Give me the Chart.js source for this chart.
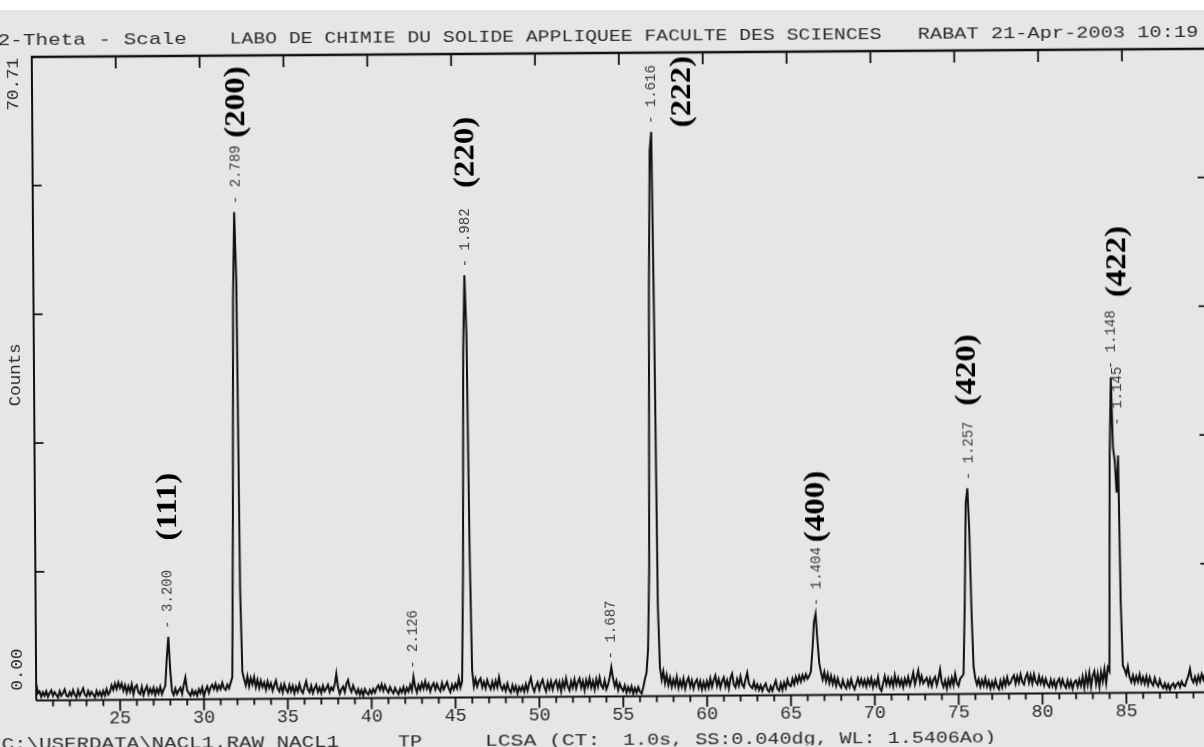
<!DOCTYPE html>
<html>
<head>
<meta charset="utf-8">
<script src="https://cdn.jsdelivr.net/npm/chart.js@4.4.1/dist/chart.umd.min.js"></script>
<style>
  html, body { margin: 0; padding: 0; background: #e6e6e6; overflow: hidden; width: 1204px; height: 747px; }
  /* the scanned plot sits slightly tilted on the page */
  #wrap { position: absolute; left: 0; top: 0; width: 1216px; height: 747px; transform: rotate(-0.4deg); transform-origin: 602px 373px; }
  #strip { position: absolute; left: 0; top: 0; width: 1204px; height: 10px; background: #fff; z-index: 2; }
</style>
</head>
<body>
<div id="wrap"><canvas id="xrd"></canvas></div>
<div id="strip"></div>
<script>
// scan: 2-theta from 20 to 90 deg, counts read every 0.1 deg
const scanStart = 20.0;
const scanStep = 0.1;
const counts = [
  1.9, 0.8, 1.0, 0.4, 0.9, 0.5, 1.0, 0.4, 0.8, 1.1,
  0.5, 0.9, 0.6, 0.3, 1.0, 0.5, 0.8, 1.2, 0.5, 0.4,
  0.9, 0.5, 1.1, 0.6, 0.3, 1.1, 0.5, 0.9, 1.3, 0.6,
  0.4, 1.0, 0.5, 0.9, 0.6, 0.3, 1.0, 0.5, 0.9, 0.4,
  1.0, 0.5, 1.2, 0.6, 0.9, 1.6, 1.1, 1.8, 1.2, 1.9,
  1.3, 1.8, 1.0, 1.6, 0.8, 1.5, 0.9, 1.7, 0.6, 1.4,
  1.6, 0.8, 0.6, 1.4, 0.5, 1.1, 1.5, 0.6, 1.2, 0.7,
  1.3, 0.5, 1.2, 0.7, 1.4, 0.6, 1.1, 1.5, 4.6, 6.9,
  3.2, 0.9, 0.5, 1.2, 0.6, 1.0, 1.3, 0.6, 1.6, 2.4,
  1.0, 0.7, 0.4, 1.0, 0.5, 0.9, 0.4, 1.1, 0.7, 1.3,
  0.3, 1.0, 1.4, 0.7, 1.3, 1.6, 1.1, 1.7, 1.0, 1.5,
  1.1, 1.8, 1.2, 1.0, 1.6, 1.2, 1.8, 2.4, 20.0, 44.0,
  53.5, 46.0, 12.0, 3.0, 2.2, 1.5, 2.5, 1.4, 2.3, 1.6,
  2.4, 1.3, 2.1, 1.2, 2.0, 1.3, 1.8, 1.0, 1.9, 1.2,
  1.7, 0.9, 1.5, 2.0, 1.1, 0.8, 1.5, 0.7, 1.6, 1.0,
  0.7, 1.5, 0.8, 1.4, 0.6, 1.3, 0.8, 1.6, 0.9, 0.6,
  1.3, 1.9, 1.0, 0.7, 1.4, 0.6, 1.1, 1.5, 0.7, 1.2,
  0.6, 1.4, 0.8, 1.1, 1.5, 0.7, 1.2, 0.9, 1.5, 2.7,
  1.2, 0.5, 1.0, 1.3, 0.7, 1.6, 2.0, 1.1, 0.7, 1.4,
  0.9, 0.5, 1.0, 0.4, 0.9, 0.3, 1.0, 0.6, 0.4, 0.9,
  0.5, 1.0, 0.6, 1.1, 1.4, 0.9, 1.5, 0.8, 1.4, 0.9,
  0.6, 1.2, 0.8, 0.5, 1.1, 0.7, 0.4, 1.0, 0.6, 1.2,
  0.5, 1.1, 0.7, 1.4, 0.8, 2.3, 1.2, 0.6, 1.4, 0.9,
  1.6, 1.0, 1.8, 1.0, 1.5, 0.7, 1.3, 1.6, 0.9, 1.5,
  1.0, 0.7, 1.6, 0.9, 1.3, 1.7, 1.0, 0.6, 1.4, 0.9,
  1.5, 1.0, 2.1, 1.1, 1.8, 14.0, 38.0, 46.4, 40.0, 16.0,
  3.0, 1.2, 2.0, 1.2, 1.8, 2.1, 1.1, 1.7, 1.0, 1.9,
  1.3, 0.9, 1.7, 1.0, 1.8, 1.1, 2.2, 1.2, 0.8, 1.3,
  0.7, 1.5, 0.8, 0.5, 1.3, 0.7, 1.2, 0.4, 1.1, 0.7,
  1.2, 0.6, 1.4, 0.7, 1.5, 2.1, 1.1, 0.6, 1.2, 1.6,
  0.8, 1.5, 1.9, 1.1, 0.6, 1.6, 0.9, 1.7, 0.8, 1.5,
  1.8, 0.9, 1.6, 0.6, 1.7, 1.0, 2.0, 1.1, 0.7, 1.7,
  1.0, 1.9, 0.9, 1.6, 2.0, 1.0, 1.7, 0.7, 1.8, 1.1,
  2.0, 1.0, 1.7, 0.8, 1.9, 1.1, 2.1, 1.2, 0.9, 1.8,
  0.8, 1.3, 2.1, 3.2, 2.0, 1.1, 1.7, 0.7, 1.4, 0.9,
  0.6, 1.2, 0.4, 1.0, 0.5, 1.1, 0.3, 0.9, 0.4, 1.0,
  0.5, 0.3, 1.0, 1.9, 2.6, 5.2, 14.0, 45.0, 60.0, 62.0,
  40.0, 10.0, 3.2, 1.8, 2.7, 1.4, 2.3, 1.2, 2.0, 1.0,
  1.8, 1.1, 2.1, 0.9, 1.7, 1.0, 1.9, 0.8, 1.6, 2.0,
  1.0, 1.7, 0.8, 1.5, 1.8, 0.9, 1.6, 0.7, 1.5, 0.8,
  1.6, 0.9, 1.9, 1.0, 1.7, 2.2, 1.1, 1.8, 0.9, 1.6,
  2.0, 1.0, 1.7, 0.8, 1.9, 2.4, 1.2, 0.9, 1.8, 1.1,
  2.1, 1.2, 0.9, 1.8, 2.5, 1.3, 1.0, 0.8, 1.5, 0.7,
  1.2, 0.6, 1.1, 0.5, 1.0, 1.3, 0.6, 0.4, 1.0, 0.5,
  1.1, 1.6, 0.7, 0.5, 1.3, 0.6, 1.4, 0.8, 1.7, 1.1,
  1.0, 1.8, 1.2, 2.0, 1.4, 2.1, 1.5, 2.2, 1.7, 2.3,
  1.8, 2.1, 2.6, 5.0, 8.0, 8.9, 6.0, 3.5, 2.5, 1.7,
  2.5, 1.5, 2.3, 1.3, 2.1, 1.2, 1.9, 1.0, 1.8, 1.1,
  0.8, 1.6, 1.0, 0.7, 1.5, 0.9, 1.7, 1.0, 0.6, 1.2,
  1.8, 1.1, 1.7, 1.0, 1.6, 0.9, 1.7, 1.1, 1.8, 0.8,
  1.5, 1.0, 1.9, 0.7, 0.4, 1.2, 2.0, 1.1, 1.8, 1.0,
  1.7, 0.9, 2.1, 1.1, 1.8, 1.0, 1.6, 0.8, 1.7, 1.1,
  1.9, 1.0, 1.6, 2.4, 1.1, 1.8, 2.6, 1.3, 2.0, 1.2,
  1.5, 1.8, 1.0, 1.7, 0.9, 1.6, 1.9, 1.0, 1.7, 2.7,
  1.3, 0.8, 1.5, 0.6, 1.6, 0.9, 1.8, 1.0, 2.2, 1.2,
  0.9, 1.7, 1.9, 2.2, 10.0, 21.0, 22.6, 18.0, 9.0, 3.0,
  1.7, 1.0, 1.6, 0.8, 1.5, 0.9, 1.7, 0.8, 1.4, 0.6,
  1.3, 0.7, 1.5, 0.8, 0.5, 1.4, 0.7, 1.6, 0.9, 1.8,
  1.0, 1.2, 1.7, 2.0, 1.1, 1.9, 1.2, 2.1, 1.3, 1.0,
  1.8, 2.2, 1.2, 2.0, 1.1, 2.1, 1.3, 1.0, 1.9, 1.1,
  1.7, 0.9, 1.6, 1.0, 0.7, 1.5, 0.8, 1.4, 0.6, 1.3,
  1.6, 0.8, 1.5, 0.9, 0.6, 1.4, 0.7, 1.3, 0.5, 1.2,
  1.4, 0.7, 1.5, 0.8, 1.8, 0.6, 2.0, 0.9, 2.2, 0.7,
  1.9, 2.4, 1.0, 2.1, 0.7, 2.3, 1.3, 2.6, 1.1, 2.8,
  2.4, 26.0, 34.7, 27.0, 25.5, 22.0, 26.1, 10.0, 3.0, 2.6,
  2.0, 2.9, 1.7, 1.2, 1.9, 1.1, 1.8, 1.2, 2.0, 1.1,
  1.7, 1.0, 1.8, 0.9, 1.7, 1.1, 0.8, 1.6, 1.0, 0.7,
  1.4, 0.8, 0.5, 1.0, 0.4, 0.9, 0.3, 0.8, 1.0, 0.5,
  0.9, 1.1, 0.6, 1.2, 0.8, 0.7, 1.3, 1.8, 2.6, 1.5,
  1.1, 1.7, 1.0, 1.8, 1.2, 2.0, 1.4, 2.1, 1.3, 1.8,
  1.6
];

// d-spacing marks printed by the diffractometer software
const peakTheta = [27.9, 32.1, 42.5, 45.8, 54.3, 56.95, 66.6, 75.7, 84.25, 84.62];
const peakD = ["3.200", "2.789", "2.126", "1.982", "1.687", "1.616", "1.404", "1.257", "1.148", "1.145"];
const peakTop = [6.9, 53.5, 2.3, 46.4, 3.2, 62.0, 8.9, 22.6, 34.7, 28.5];

// hand-written Miller indices
const hklLabels = ["(111)", "(200)", "(220)", "(222)", "(400)", "(420)", "(422)"];
const hklTheta = [27.93, 32.16, 45.85, 58.75, 66.6, 75.67, 84.66];
const hklCount = [21.2, 65.6, 59.9, 66.4, 20.7, 35.6, 47.4];

const xTickLabels = [25, 30, 35, 40, 45, 50, 55, 60, 65, 70, 75, 80, 85];
const yMin = 0, yMax = 70.71;
const yTickCount = 5;
const headerParts = ["2-Theta - Scale", "LABO DE CHIMIE DU SOLIDE APPLIQUEE FACULTE DES SCIENCES", "RABAT 21-Apr-2003 10:19"];
const footerParts = ["C:\\USERDATA\\NACL1.RAW NACL1", "TP", "LCSA (CT:", "1.0s, SS:0.040dg, WL: 1.5406Ao)"];

const points = counts.map((c, i) => ({ x: +(scanStart + i * scanStep).toFixed(2), y: c }));

const MONO = '"Liberation Mono", "DejaVu Sans Mono", monospace';
const INK = "#2b2b2b";

// plotter font is wider than the installed mono one, stretch to the measured advance
function monoText(ctx, text, x, y, advance) {
  const w = ctx.measureText(text).width;
  ctx.save();
  ctx.translate(x, y);
  ctx.scale(advance * text.length / w, 1);
  ctx.fillText(text, 0, 0);
  ctx.restore();
}

const plotterFrame = {
  id: "plotterFrame",
  beforeDraw(chart) {
    const ctx = chart.ctx;
    ctx.save();
    ctx.fillStyle = "#e6e6e6";
    ctx.fillRect(0, 0, chart.width, chart.height);
    ctx.restore();
  },
  afterDraw(chart) {
    const ctx = chart.ctx;
    const xs = chart.scales.x, ys = chart.scales.y;
    const { left, right, top, bottom } = chart.chartArea;
    ctx.save();
    ctx.strokeStyle = "#111";
    ctx.lineCap = "butt";

    // frame
    ctx.lineWidth = 2;
    ctx.beginPath();
    ctx.moveTo(left, top); ctx.lineTo(left, bottom);
    ctx.moveTo(left, bottom); ctx.lineTo(right, bottom);
    ctx.moveTo(right, top); ctx.lineTo(right, bottom);
    ctx.stroke();
    ctx.lineWidth = 2.6;
    ctx.beginPath();
    ctx.moveTo(left - 1, top); ctx.lineTo(right, top);
    ctx.stroke();

    // bottom ticks every degree, longer every 5
    ctx.lineWidth = 1.8;
    ctx.beginPath();
    for (let v = 21; v < 90; v++) {
      const px = xs.getPixelForValue(v);
      const len = v % 5 === 0 ? 11 : 6;
      ctx.moveTo(px, bottom); ctx.lineTo(px, bottom + len);
    }
    // top ticks every 5 degrees
    for (const v of xTickLabels) {
      const px = xs.getPixelForValue(v);
      ctx.moveTo(px, top); ctx.lineTo(px, top + 12);
    }
    // y ticks on both sides
    for (let k = 1; k < yTickCount; k++) {
      const py = ys.getPixelForValue(yMin + (yMax - yMin) * k / yTickCount);
      ctx.moveTo(left, py); ctx.lineTo(left + 9, py);
      ctx.moveTo(right, py); ctx.lineTo(right - 9, py);
    }
    ctx.stroke();

    ctx.fillStyle = INK;
    ctx.textBaseline = "middle";

    // x tick labels
    ctx.font = "19px " + MONO;
    ctx.textAlign = "center";
    for (const v of xTickLabels) {
      monoText(ctx, String(v), xs.getPixelForValue(v), bottom + 18, 11);
    }

    // header and footer lines, placed piece by piece like the plotter did
    ctx.font = "17px " + MONO;
    ctx.textAlign = "left";
    const headerAt = [[0, 12.6], [232, 11.85], [920, 12.2]];
    headerParts.forEach((t, i) => monoText(ctx, t, headerAt[i][0], 36, headerAt[i][1]));
    const footerAt = [[-1, 12.5], [395.5, 12], [482.5, 12.8], [620.5, 12.03]];
    footerParts.forEach((t, i) => monoText(ctx, t, footerAt[i][0], 740, footerAt[i][1]));

    // y axis labels, written upwards
    ctx.font = "17px " + MONO;
    const yLabels = [
      { text: yMax.toFixed(2), y: ys.getPixelForValue(yMax) + 1, align: "right" },
      { text: yMin.toFixed(2), y: ys.getPixelForValue(yMin) - 10, align: "left" },
      { text: "Counts", y: ys.getPixelForValue((yMin + yMax) / 2) - 4, align: "center" }
    ];
    for (const l of yLabels) {
      ctx.save();
      ctx.translate(15, l.y);
      ctx.rotate(-Math.PI / 2);
      ctx.textAlign = l.align;
      monoText(ctx, l.text, 0, 0, 10.5);
      ctx.restore();
    }

    // d-spacing marks above the peaks
    ctx.font = "14px " + MONO;
    ctx.fillStyle = "#3a3a3a";
    peakD.forEach((d, i) => {
      ctx.save();
      ctx.translate(xs.getPixelForValue(peakTheta[i]), ys.getPixelForValue(peakTop[i]) - 8);
      ctx.rotate(-Math.PI / 2);
      ctx.textAlign = "left";
      ctx.fillText("- " + d, 0, 0);
      ctx.restore();
    });

    // Miller indices
    ctx.font = 'bold 30px "Liberation Serif", "DejaVu Serif", serif';
    ctx.fillStyle = "#000";
    hklLabels.forEach((t, i) => {
      ctx.save();
      ctx.translate(xs.getPixelForValue(hklTheta[i]), ys.getPixelForValue(hklCount[i]));
      ctx.rotate(-Math.PI / 2);
      ctx.scale(1.1, 1);
      ctx.textAlign = "center";
      ctx.fillText(t, 0, 0);
      ctx.restore();
    });
    ctx.restore();
  }
};

const ctx = document.getElementById("xrd").getContext("2d");

const chart = new Chart(ctx, {
  type: "line",
  data: {
    datasets: [{
      data: points,
      borderColor: "#111",
      borderWidth: 2,
      pointRadius: 0,
      tension: 0,
      fill: false
    }]
  },
  options: {
    responsive: true,
    maintainAspectRatio: false,
    animation: false,
    layout: { padding: { left: 34, right: 8, top: 53, bottom: 50.5 } },
    scales: {
      x: { type: "linear", min: 20, max: 90, display: false },
      y: { min: yMin, max: yMax, display: false }
    },
    plugins: {
      legend: { display: false },
      tooltip: { enabled: false }
    }
  },
  plugins: [plotterFrame]
});
</script>
</body>
</html>
